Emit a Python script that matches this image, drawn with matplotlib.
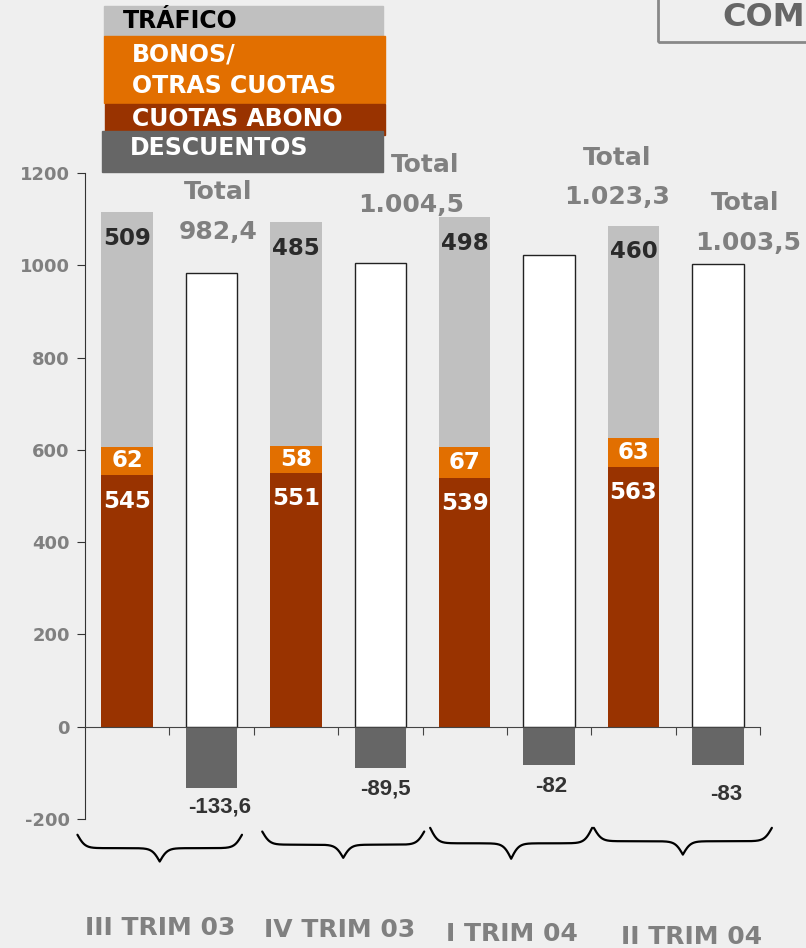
import numpy as np
import matplotlib.pyplot as plt
from matplotlib.patches import Rectangle

plt.rcParams['axes.unicode_minus'] = False

# values (Spanish number formatting in labels)
quarters = ['III TRIM 03', 'IV TRIM 03', 'I TRIM 04', 'II TRIM 04']
cuotas_abono = np.array([545, 551, 539, 563])
bonos = np.array([62, 58, 67, 63])
trafico = np.array([509, 485, 498, 460])
totales = np.array([982.4, 1004.5, 1023.3, 1003.5])
descuentos = np.array([-133.6, -89.5, -82, -83])
total_labels = ['982,4', '1.004,5', '1.023,3', '1.003,5']
desc_labels = ['-133,6', '-89,5', '-82', '-83']

C_TRAF = '#c0c0c0'
C_BONO = '#e26f00'
C_ABONO = '#993300'
C_DESC = '#666666'
GRAY_TXT = '#808080'
NARROW = ['Liberation Sans Narrow', 'Liberation Sans', 'DejaVu Sans']


def brace(ax, x0, x1, ytop, ytip, beta=22, n=401):
    x = np.linspace(x0, x1, n)
    half = x[:n // 2 + 1]
    h = 1 / (1 + np.exp(-beta * (half - half[0]))) + 1 / (1 + np.exp(-beta * (half - half[-1])))
    h = np.concatenate((h, h[-2::-1]))
    y = ytop - (h - 0.5) * (ytop - ytip)
    ax.plot(x, y, color='black', lw=1.6, clip_on=False, solid_capstyle='round')


fig = plt.figure(figsize=(8.06, 9.48), dpi=100)
fig.patch.set_facecolor('#efefef')
ax = fig.add_axes([0.1055, 0.136, 0.8375, 0.6815])
ax.set_facecolor('none')

x_stack = np.arange(4) * 2
x_total = x_stack + 1
w = 0.61

ax.bar(x_stack, cuotas_abono, w, color=C_ABONO)
ax.bar(x_stack, bonos, w, bottom=cuotas_abono, color=C_BONO)
ax.bar(x_stack, trafico, w, bottom=cuotas_abono + bonos, color=C_TRAF)
ax.bar(x_total, totales, w, color='white', edgecolor='#222222', lw=1)
ax.bar(x_total, descuentos, w, color=C_DESC)

tops = cuotas_abono + bonos + trafico
for i, x in enumerate(x_stack):
    ax.text(x, tops[i] - 57, str(trafico[i]), ha='center', va='center',
            fontsize=16.5, fontweight='bold', color='#2a2a2a')
    ax.text(x, cuotas_abono[i] + bonos[i] / 2, str(bonos[i]), ha='center', va='center',
            fontsize=16.5, fontweight='bold', color='white')
    ax.text(x, cuotas_abono[i] - 56, str(cuotas_abono[i]), ha='center', va='center',
            fontsize=16.5, fontweight='bold', color='white')

# "Total" labels above the white bars
total_pos = [(1.08, 1159, 1.08, 1072), (3.53, 1217, 3.36, 1131),
             (5.81, 1232, 5.81, 1148), (7.32, 1135, 7.36, 1048)]
for (xt, yt, xv, yv), lab in zip(total_pos, total_labels):
    ax.text(xt, yt, 'Total', ha='center', va='center', fontsize=18,
            fontweight='bold', color=GRAY_TXT, clip_on=False)
    ax.text(xv, yv, lab, ha='center', va='center', fontsize=18,
            fontweight='bold', color=GRAY_TXT, clip_on=False)

desc_pos = [(1.10, -173), (3.06, -134), (5.02, -130), (7.10, -147)]
for (xd, yd), lab in zip(desc_pos, desc_labels):
    ax.text(xd, yd, lab, ha='center', va='center', fontsize=16,
            fontweight='bold', color='#333333', family=NARROW)

# braces and quarter names
brace_pos = [(-0.59, 1.36, -234, -292), (1.60, 3.52, -227, -284),
             (3.59, 5.51, -219, -286), (5.53, 7.64, -219, -277)]
for b in brace_pos:
    brace(ax, *b)
q_pos = [(0.39, -435), (2.52, -440), (4.56, -450), (6.69, -455)]
for (xq, yq), q in zip(q_pos, quarters):
    ax.text(xq, yq, q, ha='center', va='center', fontsize=18,
            fontweight='bold', color=GRAY_TXT, clip_on=False)

ax.set_xlim(-0.5, 7.5)
ax.set_ylim(-200, 1200)
ax.set_yticks(range(-200, 1201, 200))
ax.set_xticks(np.arange(0.5, 8, 1))
ax.set_xticklabels([])
ax.spines['top'].set_visible(False)
ax.spines['right'].set_visible(False)
ax.spines['bottom'].set_position(('data', 0))
ax.spines['bottom'].set_color('#444444')
ax.spines['left'].set_color('#333333')
ax.tick_params(axis='x', direction='out', length=6, color='#444444')
ax.tick_params(axis='y', direction='out', length=6, pad=5, labelsize=13,
               labelcolor=GRAY_TXT, color='#333333')
for t in ax.get_yticklabels():
    t.set_fontweight('bold')

# legend blocks drawn as colored boxes in figure pixels
W, H = 806, 948


def fig_box(x0, y0, x1, y1, color):
    fig.patches.append(Rectangle((x0 / W, 1 - y1 / H), (x1 - x0) / W, (y1 - y0) / H,
                                 transform=fig.transFigure, color=color, zorder=1))


def fig_txt(x, y, s, color, **kw):
    fig.text(x / W, 1 - y / H, s, ha='left', va='center', color=color,
             fontsize=17, fontweight='bold', **kw)


fig_box(104, 6, 383, 36, C_TRAF)
fig_box(104, 36, 385, 103, C_BONO)
fig_box(105, 104, 385, 135, C_ABONO)
fig_box(102, 131, 383, 172, C_DESC)
fig_txt(123, 21, 'TRÁFICO', 'black')
fig_txt(132, 54, 'BONOS/', 'white')
fig_txt(132, 86, 'OTRAS CUOTAS', 'white')
fig_txt(132, 119, 'CUOTAS ABONO', 'white')
fig_txt(130, 148, 'DESCUENTOS', 'white')

# title box cut off at the right edge
fig.patches.append(Rectangle((658 / W, 1 - 42 / H), 0.3, 0.1, transform=fig.transFigure,
                             facecolor='none', edgecolor='#888888', lw=2))
fig.text(805 / W, 1 - 17 / H, 'COM', ha='right', va='center', fontsize=23,
         fontweight='bold', color='#666666')

fig.savefig('out.png', dpi=100, facecolor=fig.get_facecolor())
